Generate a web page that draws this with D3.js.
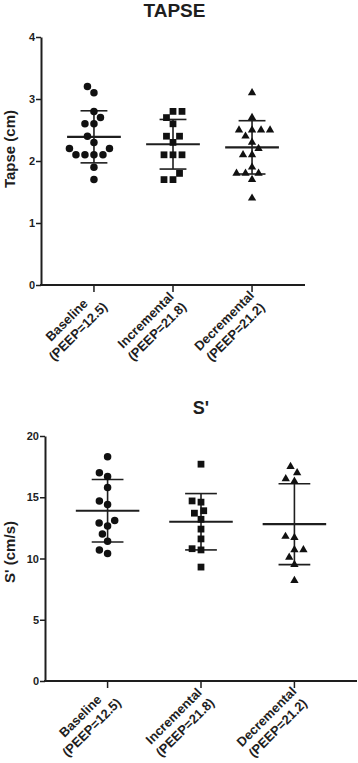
<!DOCTYPE html>
<html>
<head>
<meta charset="utf-8">
<script src="https://cdn.jsdelivr.net/npm/d3@7"></script>
<style>
  body { margin: 0; background: #fff; }
  svg { display: block; font-family: "Liberation Sans", Arial, sans-serif; font-weight: bold; }
</style>
</head>
<body>
<div id="chart"></div>
<script>
// categories
const groupNames = ["Baseline", "Incremental", "Decremental"];
const peepLabels = ["(PEEP=12.5)", "(PEEP=21.8)", "(PEEP=21.2)"];

// TAPSE (cm)
const tapseBaseline = [3.2, 3.1, 2.8, 2.7, 2.6, 2.6, 2.4, 2.3, 2.2, 2.2, 2.1, 2.1, 2.1, 2.1, 1.9, 1.7];
const tapseIncremental = [2.8, 2.8, 2.7, 2.6, 2.4, 2.4, 2.3, 2.1, 2.1, 2.1, 1.8, 1.7, 1.7];
const tapseDecremental = [3.1, 2.7, 2.5, 2.5, 2.5, 2.5, 2.4, 2.3, 2.2, 2.1, 2.1, 1.9, 1.8, 1.8, 1.8, 1.7, 1.4];
const tapseMean = [2.39, 2.27, 2.22];
const tapseSD = [0.42, 0.40, 0.43];
const tapseTicks = [0, 1, 2, 3, 4];

// S' (cm/s)
const sBaseline = [18.3, 17.0, 16.7, 15.8, 14.7, 14.4, 13.1, 12.9, 12.65, 12.0, 11.4, 10.7, 10.4];
const sIncremental = [17.7, 14.7, 14.6, 13.9, 13.7, 13.2, 12.4, 11.6, 10.8, 10.7, 9.3];
const sDecremental = [17.5, 17.0, 16.5, 16.3, 11.8, 11.7, 10.7, 10.7, 10.1, 9.5, 8.2];
const sMean = [13.9, 13.0, 12.8];
const sSD = [2.55, 2.3, 3.3];
const sTicks = [0, 5, 10, 15, 20];

const width = 358;
const height = 763;
const ink = "#1e1e1e";

const svg = d3.select("#chart").append("svg")
  .attr("width", width)
  .attr("height", height);

const symbols = [d3.symbolCircle, d3.symbolSquare, d3.symbolTriangle];
const symbolSizes = [44, 46, 30];

// simple beeswarm so points with close values spread sideways
function swarm(values, y, D) {
  const placed = [];
  const order = values.map((v, i) => i).sort((a, b) => values[a] - values[b]);
  order.forEach(i => {
    const py = y(values[i]);
    const blocks = [];
    placed.forEach(p => {
      const dy = Math.abs(p.y - py);
      if (dy < D) {
        const w = Math.sqrt(D * D - dy * dy);
        blocks.push([p.x - w, p.x + w]);
      }
    });
    const cands = [0];
    blocks.forEach(b => cands.push(b[0], b[1]));
    cands.sort((a, b) => Math.abs(a) - Math.abs(b) || a - b);
    const x = cands.find(c => blocks.every(b => c <= b[0] + 1e-6 || c >= b[1] - 1e-6));
    placed.push({ v: values[i], x: x, y: py });
  });
  return placed;
}

function panel(opts) {
  const g = svg.append("g");
  const x = d3.scalePoint().domain(groupNames).range([opts.left, opts.right]).padding(0.67);
  const y = d3.scaleLinear().domain([0, d3.max(opts.ticks)]).range([opts.bottom, opts.top]);
  const step = x.step();

  // title
  g.append("text")
    .attr("x", opts.titleX).attr("y", opts.titleY)
    .attr("text-anchor", "middle")
    .style("font-size", opts.titleSize + "px")
    .attr("fill", ink)
    .text(opts.title);

  // y label
  g.append("text")
    .attr("transform", `translate(${opts.labelX},${opts.labelY}) rotate(-90)`)
    .attr("text-anchor", "middle")
    .style("font-size", "15px")
    .attr("fill", ink)
    .text(opts.yLabel);

  // y axis
  const yAxis = g.append("g")
    .attr("transform", `translate(${opts.left},0)`)
    .call(d3.axisLeft(y).tickValues(opts.ticks).tickFormat(d3.format("d"))
      .tickSize(5).tickSizeOuter(0).tickPadding(1));
  yAxis.select(".domain").attr("stroke", ink).attr("stroke-width", 2);
  yAxis.selectAll(".tick line").attr("stroke", ink).attr("stroke-width", 1.5);
  yAxis.selectAll(".tick text")
    .attr("fill", ink)
    .style("font-size", "11px")
    .style("font-family", "'Liberation Sans', Arial, sans-serif")
    .style("font-weight", "bold");

  // x axis
  g.append("line")
    .attr("x1", opts.left - 1).attr("x2", opts.right)
    .attr("y1", opts.bottom).attr("y2", opts.bottom)
    .attr("stroke", ink).attr("stroke-width", 2);
  g.selectAll(".xtick").data(groupNames).enter().append("line")
    .attr("x1", d => x(d)).attr("x2", d => x(d))
    .attr("y1", opts.bottom).attr("y2", opts.bottom + 7)
    .attr("stroke", ink).attr("stroke-width", 1.5);

  // rotated two line labels
  groupNames.forEach((name, i) => {
    const t = g.append("g")
      .attr("transform", `translate(${x(name)},${opts.bottom + 7}) rotate(-45)`);
    const l1 = t.append("text").attr("y", 5).style("font-size", "13px").attr("fill", ink)
      .attr("text-anchor", "middle").text(name);
    const l2 = t.append("text").attr("y", 21).style("font-size", "13px").attr("fill", ink)
      .attr("text-anchor", "middle").text(peepLabels[i]);
    const w = Math.max(l1.node().getComputedTextLength(), l2.node().getComputedTextLength());
    l1.attr("x", -w / 2 - 1);
    l2.attr("x", -w / 2 - 1);
  });

  // mean and SD bars
  groupNames.forEach((name, i) => {
    const cx = x(name);
    const m = opts.means[i];
    const s = opts.sds[i];
    const capW = step * 0.17;
    const meanW = step * 0.34;
    g.append("line")
      .attr("x1", cx).attr("x2", cx)
      .attr("y1", y(m - s)).attr("y2", y(m + s))
      .attr("stroke", ink).attr("stroke-width", 1.6);
    [m - s, m + s].forEach(v => {
      g.append("line")
        .attr("x1", cx - capW).attr("x2", cx + capW)
        .attr("y1", y(v)).attr("y2", y(v))
        .attr("stroke", ink).attr("stroke-width", 1.6);
    });
    g.append("line")
      .attr("x1", cx - meanW).attr("x2", cx + meanW)
      .attr("y1", y(m)).attr("y2", y(m))
      .attr("stroke", ink).attr("stroke-width", 2.2);
  });

  // points
  opts.series.forEach((vals, i) => {
    const cx = x(groupNames[i]);
    const pts = swarm(vals, y, 9);
    g.selectAll(null).data(pts).enter().append("path")
      .attr("d", d3.symbol().type(symbols[i]).size(symbolSizes[i]))
      .attr("transform", d => `translate(${cx + d.x},${d.y})`)
      .attr("fill", "#111");
  });
}

panel({
  title: "TAPSE", titleX: 174.5, titleY: 17, titleSize: 19,
  yLabel: "Tapse (cm)", labelX: 15, labelY: 149,
  left: 41, right: 305, top: 37, bottom: 285,
  ticks: tapseTicks,
  series: [tapseBaseline, tapseIncremental, tapseDecremental],
  means: tapseMean, sds: tapseSD
});

panel({
  title: "S'", titleX: 201, titleY: 414, titleSize: 18,
  yLabel: "S' (cm/s)", labelX: 15, labelY: 552,
  left: 45, right: 357, top: 436, bottom: 681,
  ticks: sTicks,
  series: [sBaseline, sIncremental, sDecremental],
  means: sMean, sds: sSD
});
</script>
</body>
</html>
